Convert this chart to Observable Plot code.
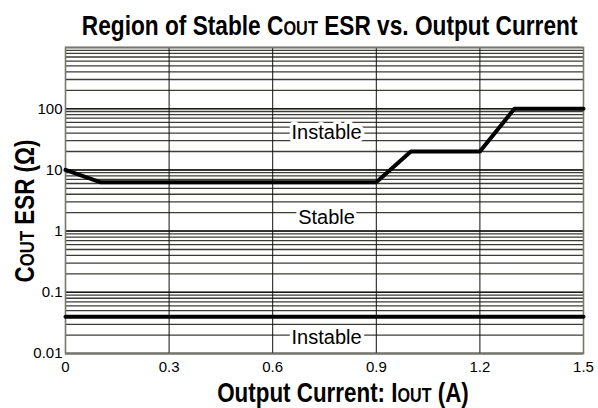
<!DOCTYPE html>
<html><head><meta charset="utf-8">
<script src="https://cdn.jsdelivr.net/npm/d3@7"></script>
<script src="https://cdn.jsdelivr.net/npm/@observablehq/plot@0.6"></script>
<style>
body{margin:0;background:#fff;font-family:"Liberation Sans",Arial,sans-serif;}
#title{height:40px;position:relative;width:598px;overflow:visible;}
#title div{position:absolute;left:25px;width:598px;top:12px;text-align:center;font:bold 28px "Liberation Sans",Arial,sans-serif;line-height:28px;white-space:nowrap;transform:scaleX(0.81);transform-origin:299px 0;color:#000;}
#title span{font-size:0.72em;}
</style></head><body>
<div id="title"><div>Region of Stable C<span>OUT</span> ESR vs. Output Current</div></div>
<div id="chart"></div>
<script>
const boundaryCurrent = [0, 0.1, 0.9, 1.0, 1.2, 1.3, 1.5];
const boundaryESR = [10, 6.3, 6.3, 20, 20, 100, 100];
const lowerCurrent = [0, 1.5];
const lowerESR = [0.04, 0.04];
const xTicks = [0, 0.3, 0.6, 0.9, 1.2, 1.5];
const yTicks = [0.01, 0.1, 1, 10, 100];
const xGrid = [0.3, 0.6, 0.9, 1.2];
const gridESR = [0.01,0.02,0.03,0.04,0.05,0.06,0.07,0.08,0.09,
  0.1,0.2,0.3,0.4,0.5,0.6,0.7,0.8,0.9,
  1,2,3,4,5,6,7,8,9,
  10,20,30,40,50,60,70,80,90,
  100,200,300,400,500,600,700,800,900,1000];
const regionLabels = ["Instable", "Stable", "Instable"];
const regionCurrent = [0.756, 0.756, 0.756];
const regionESR = [40, 1.64, 0.018];

const upper = boundaryCurrent.map((x, i) => ({x, y: boundaryESR[i]}));
const lower = lowerCurrent.map((x, i) => ({x, y: lowerESR[i]}));
const regions = regionLabels.map((t, i) => ({t, x: regionCurrent[i], y: regionESR[i]}));

const plot = Plot.plot({
  width: 598, height: 368,
  marginTop: 7, marginBottom: 55, marginLeft: 65, marginRight: 15,
  style: {fontFamily: '"Liberation Sans", Arial, sans-serif', fontSize: "15px", color: "#000", background: "#fff"},
  x: {domain: [0, 1.5]},
  y: {type: "log", domain: [0.01, 1000]},
  marks: [
    Plot.ruleY(gridESR, {stroke: "#3c3c36", strokeWidth: 1.3}),
    Plot.ruleY(yTicks, {stroke: "#1a1a1a", strokeWidth: 1.5}),
    Plot.ruleX(xGrid, {stroke: "#111", strokeWidth: 1}),
    Plot.frame({stroke: "#77776a", strokeWidth: 1.6}),
    Plot.line(upper, {x: "x", y: "y", stroke: "#000", strokeWidth: 4}),
    Plot.line(lower, {x: "x", y: "y", stroke: "#000", strokeWidth: 4}),
    Plot.text(regions, {x: "x", y: "y", text: "t", fontSize: 20, fill: "#000", stroke: "white", strokeWidth: 7}),
    Plot.axisY({ticks: yTicks, tickFormat: d => String(d), tickSize: 0, tickPadding: 3, fontSize: 15, label: null}),
    Plot.axisX({ticks: xTicks, tickFormat: d => String(d), tickSize: 0, tickPadding: 8, fontSize: 15, label: null})
  ]
});
document.getElementById("chart").appendChild(plot);

const svg = d3.select(plot);
const xl = svg.append("text")
  .attr("transform", "translate(343,362) scale(0.8,1)")
  .attr("text-anchor", "middle")
  .attr("font-family", '"Liberation Sans", Arial, sans-serif')
  .attr("font-weight", "bold").attr("font-size", 28).attr("fill", "#000");
xl.append("tspan").text("Output Current: I");
xl.append("tspan").attr("font-size", "0.72em").text("OUT");
xl.append("tspan").text(" (A)");

const yl = svg.append("text")
  .attr("transform", "translate(34,171) rotate(-90) scale(0.8,1)")
  .attr("text-anchor", "middle")
  .attr("font-family", '"Liberation Sans", Arial, sans-serif')
  .attr("font-weight", "bold").attr("font-size", 28).attr("fill", "#000");
yl.append("tspan").text("C");
yl.append("tspan").attr("font-size", "0.75em").text("OUT");
yl.append("tspan").text(" ESR (Ω)");
</script>
</body></html>
